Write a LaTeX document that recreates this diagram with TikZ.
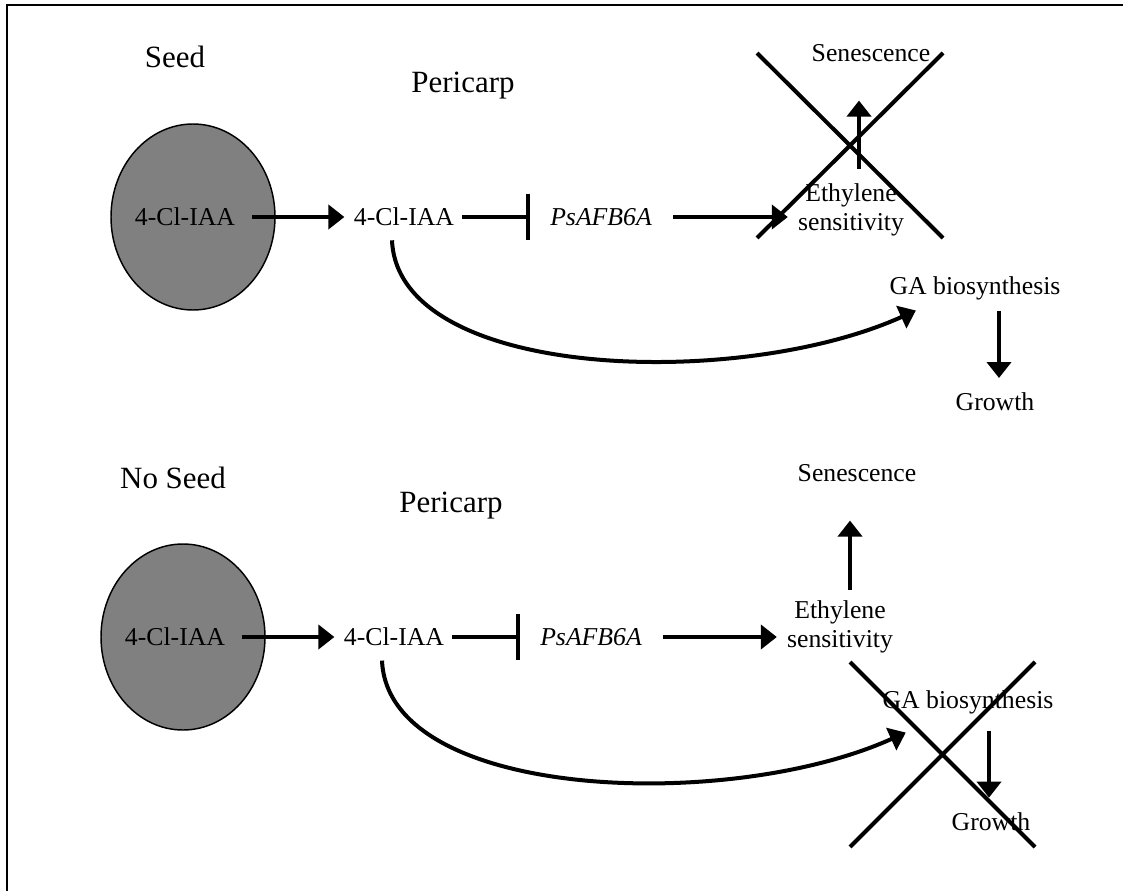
\documentclass[tikz,border=0pt]{standalone}
\usepackage{fontspec}
\setmainfont{Liberation Serif}
\usetikzlibrary{arrows.meta,shapes.geometric}
\definecolor{seedgray}{RGB}{128,128,128}

\begin{document}
\begin{tikzpicture}[x=0.75pt,y=-0.75pt,
  txt/.style={inner sep=0pt, font=\fontsize{19.3pt}{22.2pt}\selectfont},
  lbl/.style={inner sep=0pt, font=\fontsize{23.2pt}{26.7pt}\selectfont},
  seedbody/.style={ellipse, draw, line width=1.1pt, fill=seedgray,
    minimum width=123pt, minimum height=139.5pt, inner sep=0pt},
  link/.style={line width=3pt},
  act/.style={link, -{Triangle[length=12pt,width=18pt]}},
  inhib/.style={link, -{Bar[width=35pt]}},
  veto/.style={line width=3pt},
]
\useasboundingbox (0,0) rectangle (1123,891);

% outer frame (left and top edges)
\draw[line width=1.5pt] (7,900) -- (7,5) -- (1130,5);

% ---------- with seed ----------
\node[lbl] (seedlbl) at (175,57) {Seed};
\node[lbl] (peri1) at (463,86) {Pericarp};
\node[seedbody] (seed1) at (193,217) {};
\node[txt] (src1) at (185,217) {4-Cl-IAA};
\node[txt] (cl1) at (404,217) {4-Cl-IAA};
\node[txt] (afb1) at (601,217) {\itshape PsAFB6A};
\node[txt, align=center] (eth1) at (851,210) {Ethylene\\sensitivity};
\node[txt] (sen1) at (871,53) {Senescence};
\node[txt] (ga1) at (975,288) {GA biosynthesis};
\node[txt] (gro1) at (995,402) {Growth};

\draw[act, shorten <=12.75pt, shorten >=7pt] (src1.east) -- (cl1.west);
\draw[inhib, shorten <=6pt, shorten >=15pt] (cl1.east) -- (afb1.west);
\draw[act, shorten <=15.75pt, shorten >=7.5pt] (afb1.east) -- (eth1.west |- afb1.east);
\draw[act, shorten <=11pt, shorten >=29pt] ([xshift=6pt]eth1.north) -- ([xshift=6pt]eth1.north |- sen1.south);
\draw[act, shorten <=7.9pt, shorten >=11pt] ([xshift=18pt]ga1.south) -- ([xshift=18pt]ga1.south |- gro1.north);
\draw[act] ([shift={(-9pt,-10.5pt)}]cl1.south) .. controls +(6,140) and +(-177,80) .. ([shift={(19.9pt,-7.9pt)}]ga1.south west);

% ethylene response blocked
\draw[veto] (757,53) -- (943,238) (757,238) -- (943,53);

% ---------- without seed ----------
\node[lbl] (noseedlbl) at (173,478) {No Seed};
\node[lbl] (peri2) at (451,506) {Pericarp};
\node[seedbody] (seed2) at (183,637) {};
\node[txt] (src2) at (175,637) {4-Cl-IAA};
\node[txt] (cl2) at (394,637) {4-Cl-IAA};
\node[txt] (afb2) at (591,637) {\itshape PsAFB6A};
\node[txt, align=center] (eth2) at (840,627) {Ethylene\\sensitivity};
\node[txt] (sen2) at (857,473) {Senescence};
\node[txt] (ga2) at (968,702) {GA biosynthesis};
\node[txt] (gro2) at (991,822) {Growth};

\draw[act, shorten <=12.75pt, shorten >=7pt] (src2.east) -- (cl2.west);
\draw[inhib, shorten <=6pt, shorten >=15pt] (cl2.east) -- (afb2.west);
\draw[act, shorten <=15.75pt, shorten >=7.5pt] (afb2.east) -- (eth2.west |- afb2.east);
\draw[act, shorten <=8pt, shorten >=29pt] ([xshift=7.5pt]eth2.north) -- ([xshift=7.5pt]eth2.north |- sen2.south);
\draw[act, shorten <=12.4pt, shorten >=11.3pt] ([xshift=15.75pt]ga2.south) -- ([xshift=15.75pt]ga2.south |- gro2.north);
\draw[act] ([shift={(-9pt,-10.7pt)}]cl2.south) .. controls +(6,140) and +(-177,80) .. ([shift={(17.6pt,-13.9pt)}]ga2.south west);

% GA pathway blocked
\draw[veto] (850,662) -- (1035,847) (850,847) -- (1035,662);
\end{tikzpicture}
\end{document}
